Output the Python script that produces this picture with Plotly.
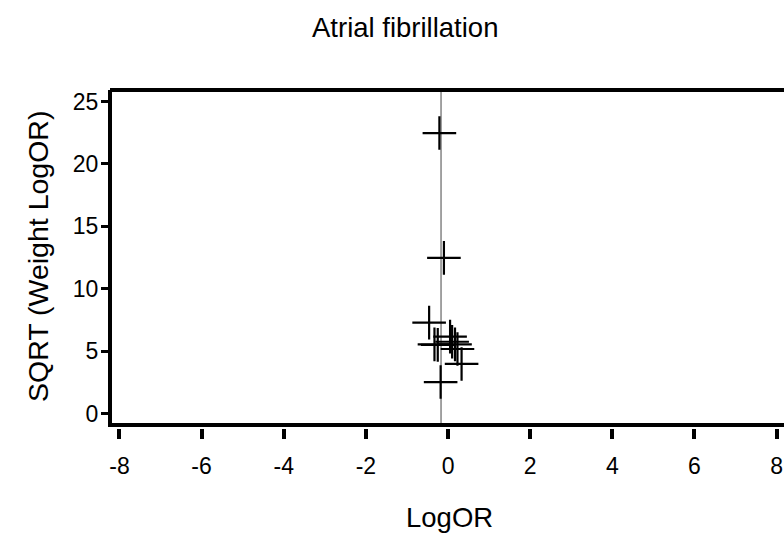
import plotly.graph_objects as go

# Data
log_or = [-0.21, -0.10, -0.46, -0.33, -0.25, 0.05, 0.10, 0.17, 0.23, 0.33, -0.18]
sqrt_weight = [22.47, 12.47, 7.28, 5.54, 5.50, 6.16, 5.75, 5.54, 5.17, 3.97, 2.52]
pooled_log_or = -0.17
x_ticks = [-8, -6, -4, -2, 0, 2, 4, 6, 8]
y_ticks = [0, 5, 10, 15, 20, 25]

title_text = "Atrial fibrillation"
x_title = "LogOR"
y_title = "SQRT (Weight LogOR)"

FONT = "Liberation Sans, Arial, sans-serif"
x_range = [-8.23, 8.18]
y_range = [-1.16, 25.92]
y_frame_bottom = -0.92

fig = go.Figure()

fig.add_trace(go.Scatter(
    x=log_or, y=sqrt_weight, mode="markers",
    marker=dict(symbol="cross-thin", size=24, color="black",
                line=dict(color="black", width=2.2)),
    showlegend=False, cliponaxis=False,
))

shapes = [
    # pooled estimate line
    dict(type="line", xref="x", yref="y", x0=pooled_log_or, x1=pooled_log_or,
         y0=y_frame_bottom, y1=y_range[1], line=dict(color="#8c8c8c", width=1.6), layer="below"),
    # frame: left, top, bottom
    dict(type="line", xref="paper", yref="y", x0=0, x1=0,
         y0=y_frame_bottom - 0.16, y1=y_range[1] + 0.16, line=dict(color="black", width=4)),
    dict(type="line", xref="paper", yref="paper", x0=0, x1=1, y0=1, y1=1,
         line=dict(color="black", width=4)),
    dict(type="line", xref="paper", yref="y", x0=0, x1=1,
         y0=y_frame_bottom, y1=y_frame_bottom, line=dict(color="black", width=4)),
]

annotations = [
    dict(text=title_text, xref="paper", yref="paper", x=(405 - 110) / 674, y=1 + (90 - 27) / 338,
         xanchor="center", yanchor="middle", showarrow=False,
         font=dict(family=FONT, size=27.5, color="black")),
    dict(text=x_title, xref="paper", yref="paper", x=(449 - 110) / 674, y=-(517 - 428) / 338,
         xanchor="center", yanchor="middle", showarrow=False,
         font=dict(family=FONT, size=27.5, color="black")),
    dict(text=y_title, xref="paper", yref="paper", x=(38 - 110) / 674, y=(428 - 257) / 338,
         xanchor="center", yanchor="middle", showarrow=False, textangle=-90,
         font=dict(family=FONT, size=28.5, color="black")),
]

fig.update_layout(
    width=784, height=534,
    margin=dict(l=110, r=0, t=90, b=106, pad=0),
    paper_bgcolor="white", plot_bgcolor="white",
    shapes=shapes, annotations=annotations,
    xaxis=dict(range=x_range, tickvals=x_ticks, ticktext=[str(v) for v in x_ticks],
               ticks="outside", ticklen=10, tickwidth=3.5, tickcolor="black",
               ticklabelstandoff=7,
               showline=False, showgrid=False, zeroline=False,
               tickfont=dict(family=FONT, size=23, color="black")),
    yaxis=dict(range=y_range, tickvals=y_ticks, ticktext=[str(v) for v in y_ticks],
               ticks="outside", ticklen=8, tickwidth=3, tickcolor="black",
               ticklabelstandoff=-2,
               showline=False, showgrid=False, zeroline=False,
               tickfont=dict(family=FONT, size=23, color="black")),
)

fig.write_html("out.html")
